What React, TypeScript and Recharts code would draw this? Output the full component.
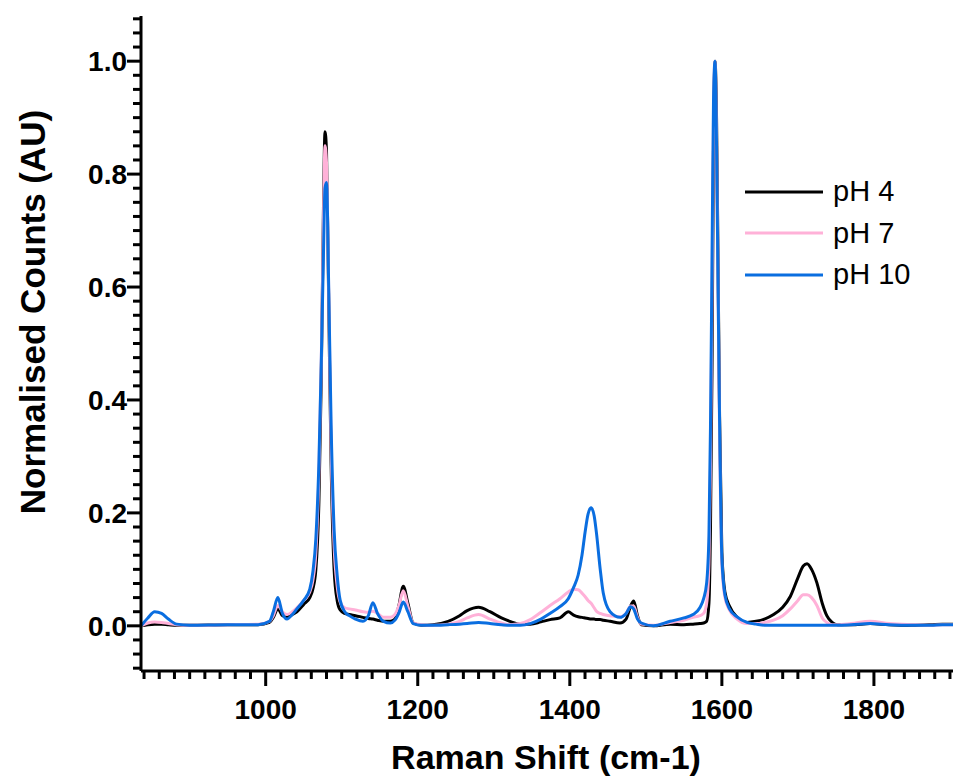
import { LineChart, Line, XAxis, YAxis, Legend } from "recharts";

// Raman shift (cm-1) sampling shared by the three spectra
const ramanShift = [
  836, 845, 854, 863, 872, 883, 900, 950, 990, 1005,
  1010, 1016, 1022, 1028, 1035, 1041, 1050, 1058, 1062, 1066,
  1070, 1073, 1076, 1078, 1080, 1083, 1086, 1090, 1094, 1098,
  1104, 1110, 1118, 1128, 1135, 1141, 1147, 1155, 1164, 1170,
  1175, 1181, 1187, 1194, 1205, 1220, 1240, 1255, 1265, 1280,
  1295, 1310, 1321, 1335, 1348, 1362, 1374, 1387, 1398, 1405,
  1411, 1416, 1420, 1424, 1428, 1432, 1435, 1440, 1444, 1453,
  1466, 1474, 1480, 1484, 1489, 1494, 1510, 1532, 1550, 1562,
  1571, 1576, 1580, 1583, 1585, 1587, 1589, 1591, 1593, 1595,
  1597, 1600, 1604, 1610, 1620, 1633, 1645, 1656, 1668, 1680,
  1690, 1700, 1707, 1712, 1718, 1725, 1732, 1738, 1745, 1752,
  1770, 1795, 1820, 1850, 1875, 1890, 1904,
];

const ph4 = [
  0.0, 0.002, 0.003, 0.003, 0.002, 0.001, 0.001, 0.002, 0.002, 0.006,
  0.015, 0.03, 0.018, 0.015, 0.02, 0.025, 0.038, 0.05, 0.065, 0.1,
  0.22, 0.43, 0.74, 0.875, 0.84, 0.56, 0.29, 0.1, 0.045, 0.028,
  0.022, 0.02, 0.018, 0.015, 0.013, 0.012, 0.01, 0.008, 0.008, 0.012,
  0.035, 0.07, 0.04, 0.005, 0.001, 0.002, 0.008, 0.018, 0.027, 0.033,
  0.025, 0.014, 0.008, 0.003, 0.003, 0.007, 0.011, 0.014, 0.025, 0.019,
  0.016, 0.015, 0.014, 0.013, 0.012, 0.012, 0.011, 0.011, 0.01, 0.008,
  0.005, 0.012, 0.035, 0.044, 0.018, 0.002, 0.0, 0.003, 0.002, 0.003,
  0.004, 0.005, 0.008, 0.04, 0.17, 0.45, 0.85, 1.0, 0.9, 0.64,
  0.37, 0.13, 0.06, 0.035, 0.015, 0.006, 0.008, 0.012, 0.02, 0.033,
  0.052, 0.085, 0.106, 0.11, 0.1, 0.076, 0.04, 0.018, 0.006, 0.002,
  0.002, 0.004, 0.002, 0.001, 0.002, 0.003, 0.003,
];

const ph7 = [
  0.0, 0.005, 0.007, 0.006, 0.004, 0.002, 0.001, 0.002, 0.003, 0.008,
  0.018, 0.036, 0.025, 0.02, 0.025, 0.032, 0.045, 0.06, 0.08, 0.13,
  0.27, 0.46, 0.72, 0.85, 0.82, 0.58, 0.32, 0.14, 0.07, 0.042,
  0.032, 0.03, 0.028, 0.025, 0.024, 0.026, 0.022, 0.015, 0.015, 0.02,
  0.035, 0.062, 0.035, 0.005, 0.002, 0.001, 0.003, 0.008, 0.014, 0.02,
  0.012, 0.005, 0.002, 0.004, 0.011, 0.024, 0.036, 0.048, 0.06, 0.065,
  0.064, 0.058, 0.052, 0.045, 0.04, 0.032, 0.026, 0.022, 0.02, 0.018,
  0.016, 0.022, 0.035, 0.035, 0.015, 0.003, 0.001, 0.006, 0.01, 0.015,
  0.018, 0.022, 0.04, 0.11, 0.28, 0.58, 0.9, 1.0, 0.86, 0.6,
  0.34, 0.11, 0.05, 0.028, 0.012, 0.004, 0.004, 0.006, 0.01, 0.018,
  0.03, 0.045, 0.055, 0.055, 0.05, 0.036, 0.014, 0.006, 0.002, 0.002,
  0.004, 0.008, 0.004, 0.002, 0.001, 0.002, 0.002,
];

const ph10 = [
  0.0, 0.014, 0.025, 0.022, 0.012, 0.003, 0.001, 0.002, 0.002, 0.008,
  0.025, 0.05, 0.022, 0.012, 0.02, 0.03, 0.045, 0.065, 0.095, 0.155,
  0.29, 0.46, 0.66, 0.775, 0.785, 0.59, 0.36, 0.17, 0.09, 0.045,
  0.025, 0.018, 0.012, 0.008, 0.018, 0.041, 0.022, 0.008, 0.005, 0.01,
  0.022, 0.042, 0.025, 0.004, 0.001, 0.001, 0.002, 0.003, 0.004, 0.006,
  0.004, 0.002, 0.001, 0.001, 0.004, 0.012, 0.022, 0.034, 0.048, 0.068,
  0.09, 0.125, 0.165, 0.198, 0.209, 0.195, 0.165, 0.1, 0.058, 0.025,
  0.015, 0.022, 0.034, 0.03, 0.012, 0.005, 0.0, 0.008, 0.014, 0.02,
  0.032, 0.048, 0.076, 0.16, 0.35, 0.64, 0.93, 1.0, 0.85, 0.6,
  0.36, 0.12, 0.055, 0.03, 0.016, 0.006, 0.003, 0.001, 0.001, 0.001,
  0.001, 0.001, 0.001, 0.001, 0.001, 0.001, 0.001, 0.001, 0.001, 0.001,
  0.002, 0.004, 0.002, 0.001, 0.001, 0.002, 0.002,
];

const seriesNames = ["pH 4", "pH 7", "pH 10"];
const seriesColors = ["#000000", "#ffb1d8", "#0a6ee0"];

const xMajorTicks = [1000, 1200, 1400, 1600, 1800];
const yMajorTicks = [0, 0.2, 0.4, 0.6, 0.8, 1.0];

const data = ramanShift.map((x, i) => ({ x, ph4: ph4[i], ph7: ph7[i], ph10: ph10[i] }));

const xTicks: number[] = [];
for (let v = 840; v <= 1900; v += 20) xTicks.push(v);
const yTicks: number[] = [];
for (let k = -3; k <= 43; k++) yTicks.push(Math.round(k * 25) / 1000);

const FONT = "'Liberation Sans', Arial, sans-serif";

function XTick({ x, y, payload }: any) {
  const major = xMajorTicks.includes(payload.value);
  return (
    <g>
      <line x1={x} x2={x} y1={y} y2={y + (major ? 15 : 8)} stroke="#000" strokeWidth={3} />
      {major && (
        <text x={x} y={y + 48} textAnchor="middle" fontFamily={FONT} fontWeight="bold" fontSize={28} fill="#000">
          {payload.value}
        </text>
      )}
    </g>
  );
}

function YTick({ x, y, payload }: any) {
  const major = yMajorTicks.some((t) => Math.abs(t - payload.value) < 1e-6);
  return (
    <g>
      <line x1={x} x2={x - (major ? 14 : 8)} y1={y} y2={y} stroke="#000" strokeWidth={3} />
      {major && (
        <text x={x - 14} y={y} dy="0.36em" textAnchor="end" fontFamily={FONT} fontWeight="bold" fontSize={28} fill="#000">
          {payload.value.toFixed(1)}
        </text>
      )}
    </g>
  );
}

function LegendBox() {
  return (
    <div style={{ fontFamily: FONT, fontSize: 29, color: "#000" }}>
      {seriesNames.map((name, i) => (
        <div key={name} style={{ display: "flex", alignItems: "center", height: 41.5 }}>
          <svg width={78} height={6}>
            <line x1={0} x2={78} y1={3} y2={3} stroke={seriesColors[i]} strokeWidth={3} />
          </svg>
          <span style={{ marginLeft: 10, lineHeight: 1 }}>{name}</span>
        </div>
      ))}
    </div>
  );
}

export default function App() {
  return (
    <div style={{ position: "absolute", left: 0, top: 0 }}>
      <LineChart width={955} height={780} data={data} margin={{ top: 16, right: 2, bottom: 0, left: 0 }}>
        <XAxis
          dataKey="x"
          type="number"
          domain={[836, 1904]}
          ticks={xTicks}
          interval={0}
          tickSize={0}
          tickMargin={0}
          height={109}
          axisLine={{ stroke: "#000", strokeWidth: 3 }}
          tickLine={false}
          tick={<XTick />}
          label={{
            value: "Raman Shift (cm-1)",
            content: () => (
              <text x={546} y={769} textAnchor="middle" fontFamily={FONT} fontWeight="bold" fontSize={34} fill="#000">
                Raman Shift (cm-1)
              </text>
            ),
          }}
        />
        <YAxis
          type="number"
          domain={[-0.08, 1.08]}
          ticks={yTicks}
          interval={0}
          tickSize={0}
          tickMargin={0}
          width={141}
          axisLine={{ stroke: "#000", strokeWidth: 3 }}
          tickLine={false}
          tick={<YTick />}
          label={{
            value: "Normalised Counts (AU)",
            content: () => (
              <text
                x={32}
                y={312}
                dy="0.36em"
                transform="rotate(-90 32 312)"
                textAnchor="middle"
                fontFamily={FONT}
                fontWeight="bold"
                fontSize={35}
                fill="#000"
              >
                Normalised Counts (AU)
              </text>
            ),
          }}
        />
        <Legend
          layout="vertical"
          align="center"
          verticalAlign="middle"
          content={<LegendBox />}
          wrapperStyle={{ position: "absolute", left: 745, top: 171, width: "auto", height: "auto" }}
        />
        <Line type="monotone" dataKey="ph4" name="pH 4" stroke={seriesColors[0]} strokeWidth={3} dot={false} isAnimationActive={false} />
        <Line type="monotone" dataKey="ph7" name="pH 7" stroke={seriesColors[1]} strokeWidth={3} dot={false} isAnimationActive={false} />
        <Line type="monotone" dataKey="ph10" name="pH 10" stroke={seriesColors[2]} strokeWidth={3} dot={false} isAnimationActive={false} />
      </LineChart>
    </div>
  );
}
